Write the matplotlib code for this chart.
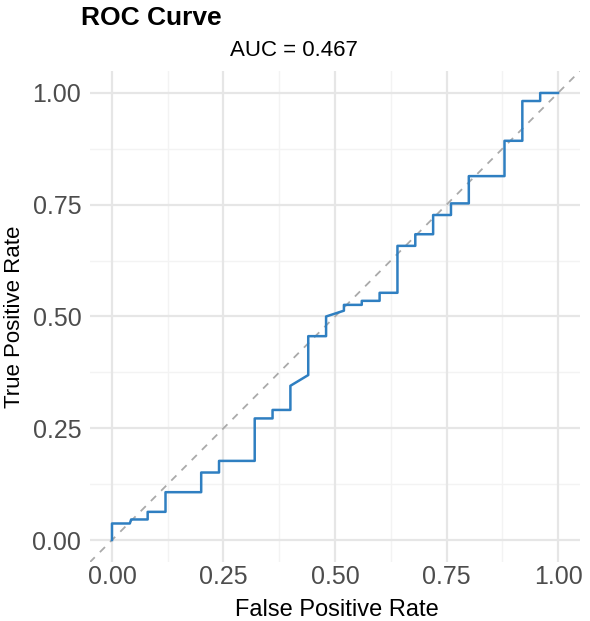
import numpy as np
import matplotlib
matplotlib.use("Agg")
import matplotlib.pyplot as plt

plt.rcParams['font.family'] = ['Liberation Sans', 'DejaVu Sans']

# ROC step curve vertices
fpr = [0.0, 0.0, 0.04, 0.043, 0.08, 0.08, 0.12, 0.12, 0.20, 0.20, 0.24, 0.24,
       0.32, 0.32, 0.36, 0.36, 0.40, 0.40, 0.44, 0.44, 0.48, 0.48, 0.52, 0.52,
       0.56, 0.56, 0.60, 0.60, 0.64, 0.64, 0.68, 0.68, 0.72, 0.72, 0.76, 0.76,
       0.80, 0.80, 0.88, 0.88, 0.92, 0.92, 0.96, 0.96, 1.0]
tpr = [0.0, 0.037, 0.037, 0.046, 0.046, 0.063, 0.063, 0.107, 0.107, 0.151, 0.151, 0.177,
       0.177, 0.272, 0.272, 0.291, 0.291, 0.345, 0.369, 0.456, 0.456, 0.500, 0.513, 0.526,
       0.526, 0.535, 0.535, 0.553, 0.553, 0.658, 0.658, 0.684, 0.684, 0.727, 0.727, 0.753,
       0.753, 0.814, 0.814, 0.893, 0.893, 0.982, 0.982, 1.0, 1.0]
auc = 0.467
ticks = [0.0, 0.25, 0.5, 0.75, 1.0]
tick_labels = ['0.00', '0.25', '0.50', '0.75', '1.00']

fig = plt.figure(figsize=(5.9, 6.21), dpi=100)
ax = fig.add_axes([0.152, 0.0944, 0.8316, 0.7919])

ax.set_xlim(-0.05, 1.05)
ax.set_ylim(-0.05, 1.05)

# grid like theme_minimal
for t in [0.125, 0.375, 0.625, 0.875]:
    ax.axvline(t, color='#F3F3F3', lw=1.0, zorder=0)
    ax.axhline(t, color='#F3F3F3', lw=1.0, zorder=0)
for t in ticks:
    ax.axvline(t, color='#E6E6E6', lw=1.6, zorder=0)
    ax.axhline(t, color='#E6E6E6', lw=1.6, zorder=0)

ax.axline((0, 0), (1, 1), color='#AAAAAA', lw=1.3, ls=(0, (4, 4)), zorder=1)
ax.plot(fpr, tpr, color='#2F7FC1', lw=1.8, zorder=2)

for s in ax.spines.values():
    s.set_visible(False)
ax.set_xticks(ticks)
ax.set_xticklabels(tick_labels)
ax.set_yticks(ticks)
ax.set_yticklabels(tick_labels)
ax.tick_params(length=0, labelsize=18, labelcolor='#4D4D4D')
ax.tick_params(axis='x', pad=2)
ax.tick_params(axis='y', pad=6)

fig.text(337 / 590, 1 - 616 / 621, 'False Positive Rate', fontsize=17,
         ha='center', va='baseline')
fig.text(20 / 590, 1 - 316.5 / 621, 'True Positive Rate', fontsize=16,
         ha='center', va='baseline', rotation=90, rotation_mode='anchor')

fig.text(81 / 590, 1 - 25 / 621, 'ROC Curve', fontsize=19, fontweight='bold',
         ha='left', va='baseline')
fig.text(294 / 590, 1 - 56.5 / 621, 'AUC = %.3f' % auc, fontsize=16,
         ha='center', va='baseline')

fig.savefig('out.png', dpi=100)
